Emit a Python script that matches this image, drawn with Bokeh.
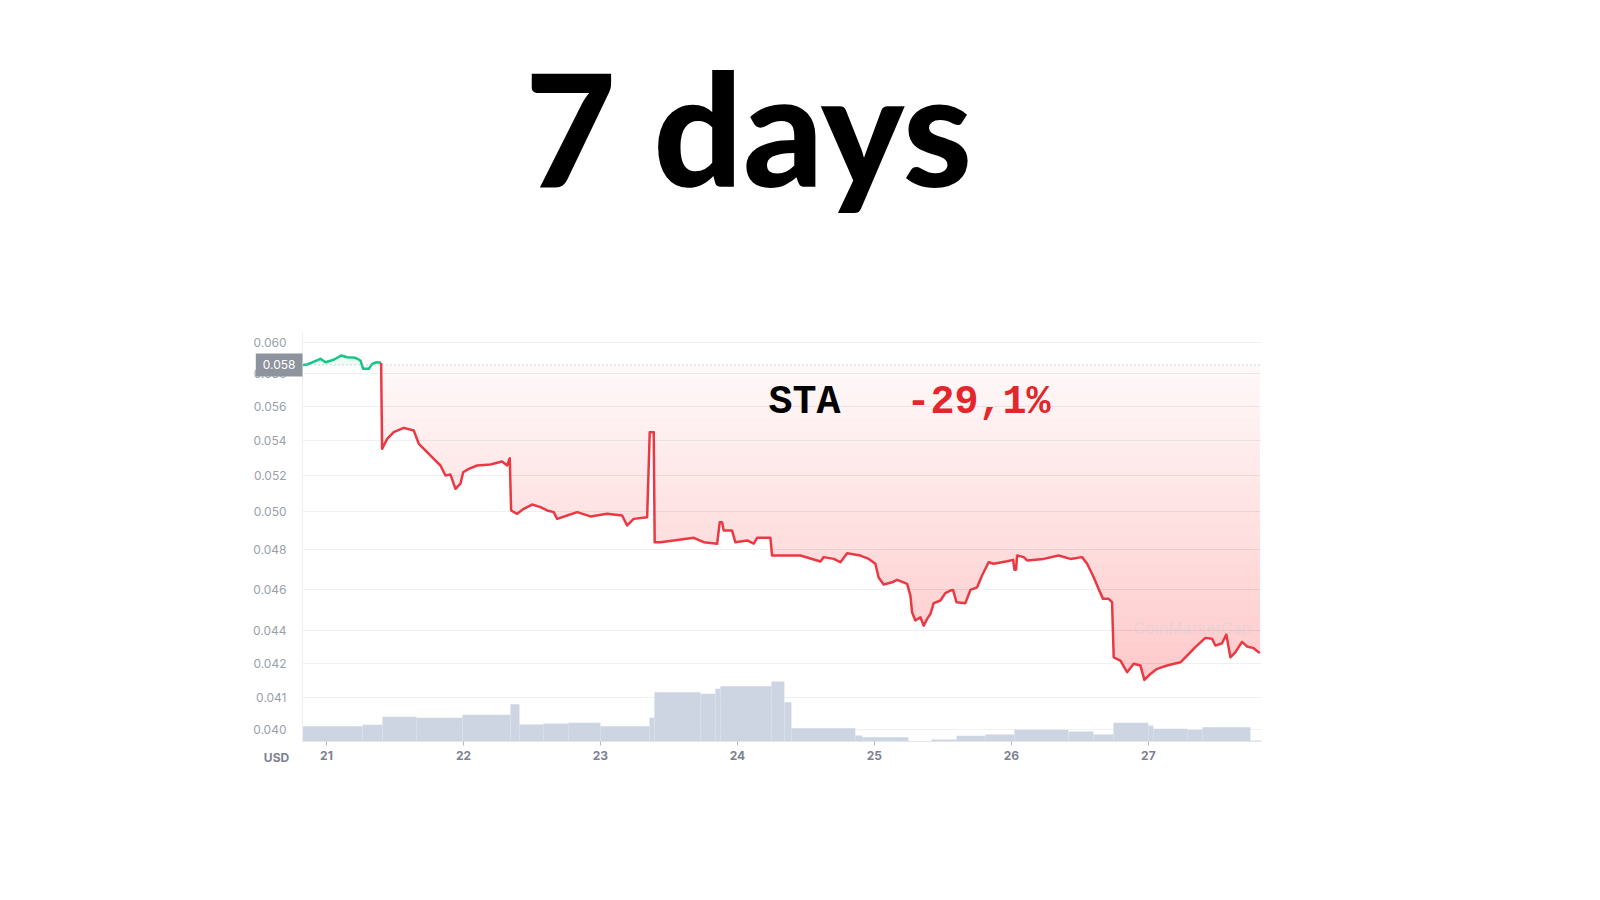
import numpy as np
from bokeh.plotting import figure
from bokeh.models import (Range1d, LinearScale, FixedTicker, PrintfTickFormatter,
                          Label, Span)
from bokeh.embed import file_html
from bokeh.resources import INLINE

TITLE = "7 days"
COIN = "STA"
CHANGE_TEXT = "-29,1%"
CURRENCY = "USD"
WATERMARK = "CoinMarketCap"

# time in days of the month, price in USD
DAYS = [
    20.825, 20.859, 20.896, 20.956, 20.993, 21.053, 21.107, 21.151, 21.212, 21.248,
    21.268, 21.309, 21.334, 21.365, 21.399, 21.406, 21.443, 21.491, 21.564, 21.637,
    21.674, 21.735, 21.783, 21.832, 21.869, 21.905, 21.942, 21.978, 21.998, 22.039,
    22.100, 22.197, 22.282, 22.319, 22.338, 22.348, 22.392, 22.440, 22.501, 22.562,
    22.611, 22.659, 22.684, 22.757, 22.830, 22.927, 23.049, 23.158, 23.195, 23.243,
    23.341, 23.360, 23.389, 23.396, 23.438, 23.535, 23.681, 23.754, 23.852, 23.871,
    23.888, 23.900, 23.961, 23.985, 24.071, 24.119, 24.144, 24.241, 24.253, 24.460,
    24.606, 24.630, 24.703, 24.752, 24.801, 24.898, 24.959, 25.007, 25.031, 25.068,
    25.129, 25.166, 25.239, 25.263, 25.275, 25.299, 25.336, 25.360, 25.385, 25.409,
    25.433, 25.482, 25.518, 25.555, 25.574, 25.599, 25.664, 25.701, 25.750, 25.786,
    25.834, 25.871, 25.969, 26.013, 26.022, 26.034, 26.042, 26.090, 26.115, 26.236,
    26.345, 26.431, 26.516, 26.553, 26.601, 26.637, 26.669, 26.710, 26.735, 26.747,
    26.796, 26.845, 26.893, 26.942, 26.971, 27.015, 27.064, 27.137, 27.234, 27.283,
    27.343, 27.416, 27.465, 27.489, 27.538, 27.569, 27.599, 27.635, 27.684, 27.720,
    27.769, 27.813,
]
PRICES = [
    0.05855, 0.05858, 0.05871, 0.05894, 0.05872, 0.05888, 0.05915, 0.05904, 0.05900, 0.05883,
    0.05831, 0.05831, 0.05862, 0.05872, 0.05869, 0.05350, 0.05408, 0.05447, 0.05472, 0.05457,
    0.05379, 0.05331, 0.05293, 0.05255, 0.05199, 0.05204, 0.05125, 0.05153, 0.05217, 0.05236,
    0.05255, 0.05261, 0.05278, 0.05255, 0.05296, 0.05007, 0.04989, 0.05016, 0.05039, 0.05025,
    0.05007, 0.04998, 0.04962, 0.04980, 0.04998, 0.04975, 0.04989, 0.04980, 0.04927, 0.04962,
    0.04971, 0.05447, 0.05447, 0.04839, 0.04839, 0.04848, 0.04862, 0.04839, 0.04831, 0.04944,
    0.04944, 0.04900, 0.04900, 0.04839, 0.04848, 0.04832, 0.04862, 0.04862, 0.04770, 0.04770,
    0.04740, 0.04762, 0.04753, 0.04736, 0.04782, 0.04770, 0.04753, 0.04728, 0.04659, 0.04624,
    0.04635, 0.04647, 0.04627, 0.04569, 0.04488, 0.04448, 0.04464, 0.04424, 0.04456, 0.04480,
    0.04532, 0.04545, 0.04581, 0.04594, 0.04597, 0.04537, 0.04532, 0.04597, 0.04610, 0.04669,
    0.04736, 0.04728, 0.04741, 0.04748, 0.04698, 0.04698, 0.04770, 0.04762, 0.04745, 0.04753,
    0.04770, 0.04753, 0.04762, 0.04728, 0.04660, 0.04602, 0.04553, 0.04553, 0.04537, 0.04276,
    0.04261, 0.04208, 0.04246, 0.04238, 0.04173, 0.04200, 0.04223, 0.04238, 0.04253, 0.04284,
    0.04323, 0.04366, 0.04362, 0.04330, 0.04341, 0.04382, 0.04276, 0.04299, 0.04347, 0.04326,
    0.04318, 0.04295,
]

# volume (relative units) as steps starting at VOL_START
VOL_START = [20.825, 21.263, 21.409, 21.657, 21.993, 22.343, 22.409, 22.584, 22.766, 23.000,
             23.358, 23.394, 23.730, 23.839, 23.876, 24.248, 24.343, 24.394, 24.861, 24.912,
             25.248, 25.416, 25.599, 25.810, 26.022, 26.416, 26.599, 26.745, 27.000, 27.036,
             27.285, 27.394, 27.745]
VOL_END = 27.826
VOLUME = [153, 167, 247, 237, 267, 373, 170, 180, 187, 153,
          237, 493, 477, 527, 553, 600, 393, 133, 60, 43,
          5, 20, 57, 70, 117, 100, 70, 187, 160, 127,
          117, 143, 10]

X_TICKS = [21, 22, 23, 24, 25, 26, 27]
Y_TICKS = [0.039563, 0.040948, 0.042458, 0.044, 0.046, 0.048, 0.050,
           0.052, 0.054, 0.056, 0.058, 0.060]

RED = "#ea3943"
GREEN = "#16c784"
GREY_TXT = "#9a9fa9"

x = np.array(DAYS)
pr = np.array(PRICES)
base = pr[0]

p = figure(width=1600, height=900, output_backend="svg", toolbar_location=None,
           x_range=Range1d(20.825, 27.826), y_range=Range1d(0.039057, 0.060629),
           y_axis_type="log",
           min_border_left=302, min_border_right=339,
           min_border_top=332, min_border_bottom=159)
p.outline_line_color = None
p.background_fill_color = "white"
p.border_fill_color = "white"

p.extra_y_ranges = {"vol": Range1d(0, 4090)}
p.extra_y_scales = {"vol": LinearScale()}

# grid
p.xgrid.visible = False
p.ygrid.grid_line_color = "#eef0f3"
p.ygrid.grid_line_width = 1

# y axis
ya = p.yaxis[0]
ya.ticker = FixedTicker(ticks=Y_TICKS, minor_ticks=[])
ya.formatter = PrintfTickFormatter(format="%.3f")
ya.major_tick_line_color = None
ya.minor_tick_line_color = None
ya.axis_line_color = "#eceef1"
ya.major_label_standoff = 10
ya.major_label_text_font = "Inter"
ya.major_label_text_font_size = "12px"
ya.major_label_text_color = GREY_TXT

# x axis
xa = p.xaxis[0]
xa.ticker = FixedTicker(ticks=X_TICKS, minor_ticks=[])
xa.major_tick_in = 0
xa.major_tick_out = 4
xa.major_tick_line_color = "#b4b9c2"
xa.minor_tick_line_color = None
xa.axis_line_color = "#e3e6eb"
xa.major_label_standoff = 5
xa.major_label_text_font = "Inter"
xa.major_label_text_font_style = "bold"
xa.major_label_text_font_size = "12px"
xa.major_label_text_color = "#7d8291"

# volume bars
p.quad(left=VOL_START, right=VOL_START[1:] + [VOL_END], bottom=0, top=VOLUME,
       y_range_name="vol", fill_color="#cdd4e2", line_color=None)

# gradient fill below the opening price
lowest = 0.0405
N = 26
p.varea(x=x, y1=np.minimum(pr, base), y2=base, fill_color=RED, fill_alpha=0.035)
for k in range(1, N + 1):
    lvl = base * (lowest / base) ** (k / N)
    p.varea(x=x, y1=np.minimum(pr, lvl), y2=lvl, fill_color=RED, fill_alpha=0.011)
p.varea(x=x, y1=base, y2=np.maximum(pr, base), fill_color=GREEN, fill_alpha=0.08)

# opening price reference line
p.add_layout(Span(location=base, dimension="width", line_color="#a3a9b4",
                  line_dash="1 3", line_width=1))

# price line: green while around the opening price, red after the drop
k_drop = int(np.argmax(pr < 0.99 * base)) - 1
p.line(x[:k_drop + 1], pr[:k_drop + 1], line_color=GREEN, line_width=2.5, line_join="round")
p.line(x[k_drop:], pr[k_drop:], line_color=RED, line_width=2.5, line_join="round")

# opening price box on the axis (in the left panel so that it is not clipped)
p.add_layout(Label(x=302, y=base, x_units="canvas", y_units="data",
                   text=f"{np.floor(base * 1000) / 1000:.3f}", text_align="right",
                   text_baseline="middle", text_font="Inter", text_font_size="12px",
                   text_color="white", background_fill_color="#8e949e",
                   padding=(7, 7)), "left")
p.add_layout(Label(x=276, y=757, x_units="canvas", y_units="canvas", text=CURRENCY,
                   text_font="Inter", text_font_style="bold", text_font_size="12px",
                   text_align="center", text_baseline="middle", text_color="#7d8291"),
             "left")

# big title (in the top panel)
p.add_layout(Label(x=748, y=125, x_units="canvas", y_units="canvas", text=TITLE,
                   text_font="'Lato Black', Lato", text_font_style="bold",
                   text_font_size="157px",
                   text_align="center", text_baseline="alphabetic", text_color="black"),
             "above")

# texts inside the chart
p.add_layout(Label(x=768, y=402, x_units="canvas", y_units="canvas", text=COIN,
                   text_font="Liberation Mono", text_font_style="bold", text_font_size="40px",
                   text_align="left", text_baseline="alphabetic", text_color="black"))
p.add_layout(Label(x=906, y=402, x_units="canvas", y_units="canvas", text=CHANGE_TEXT,
                   text_font="Liberation Mono", text_font_style="bold", text_font_size="40px",
                   text_align="left", text_baseline="alphabetic", text_color="#e3262b"))
p.add_layout(Label(x=1133, y=627, x_units="canvas", y_units="canvas", text=WATERMARK,
                   text_font="Inter", text_font_size="16px", text_align="left",
                   text_baseline="middle", text_color="#cdd2da", text_alpha=0.45))

open("out.html", "w").write(file_html(p, INLINE))
